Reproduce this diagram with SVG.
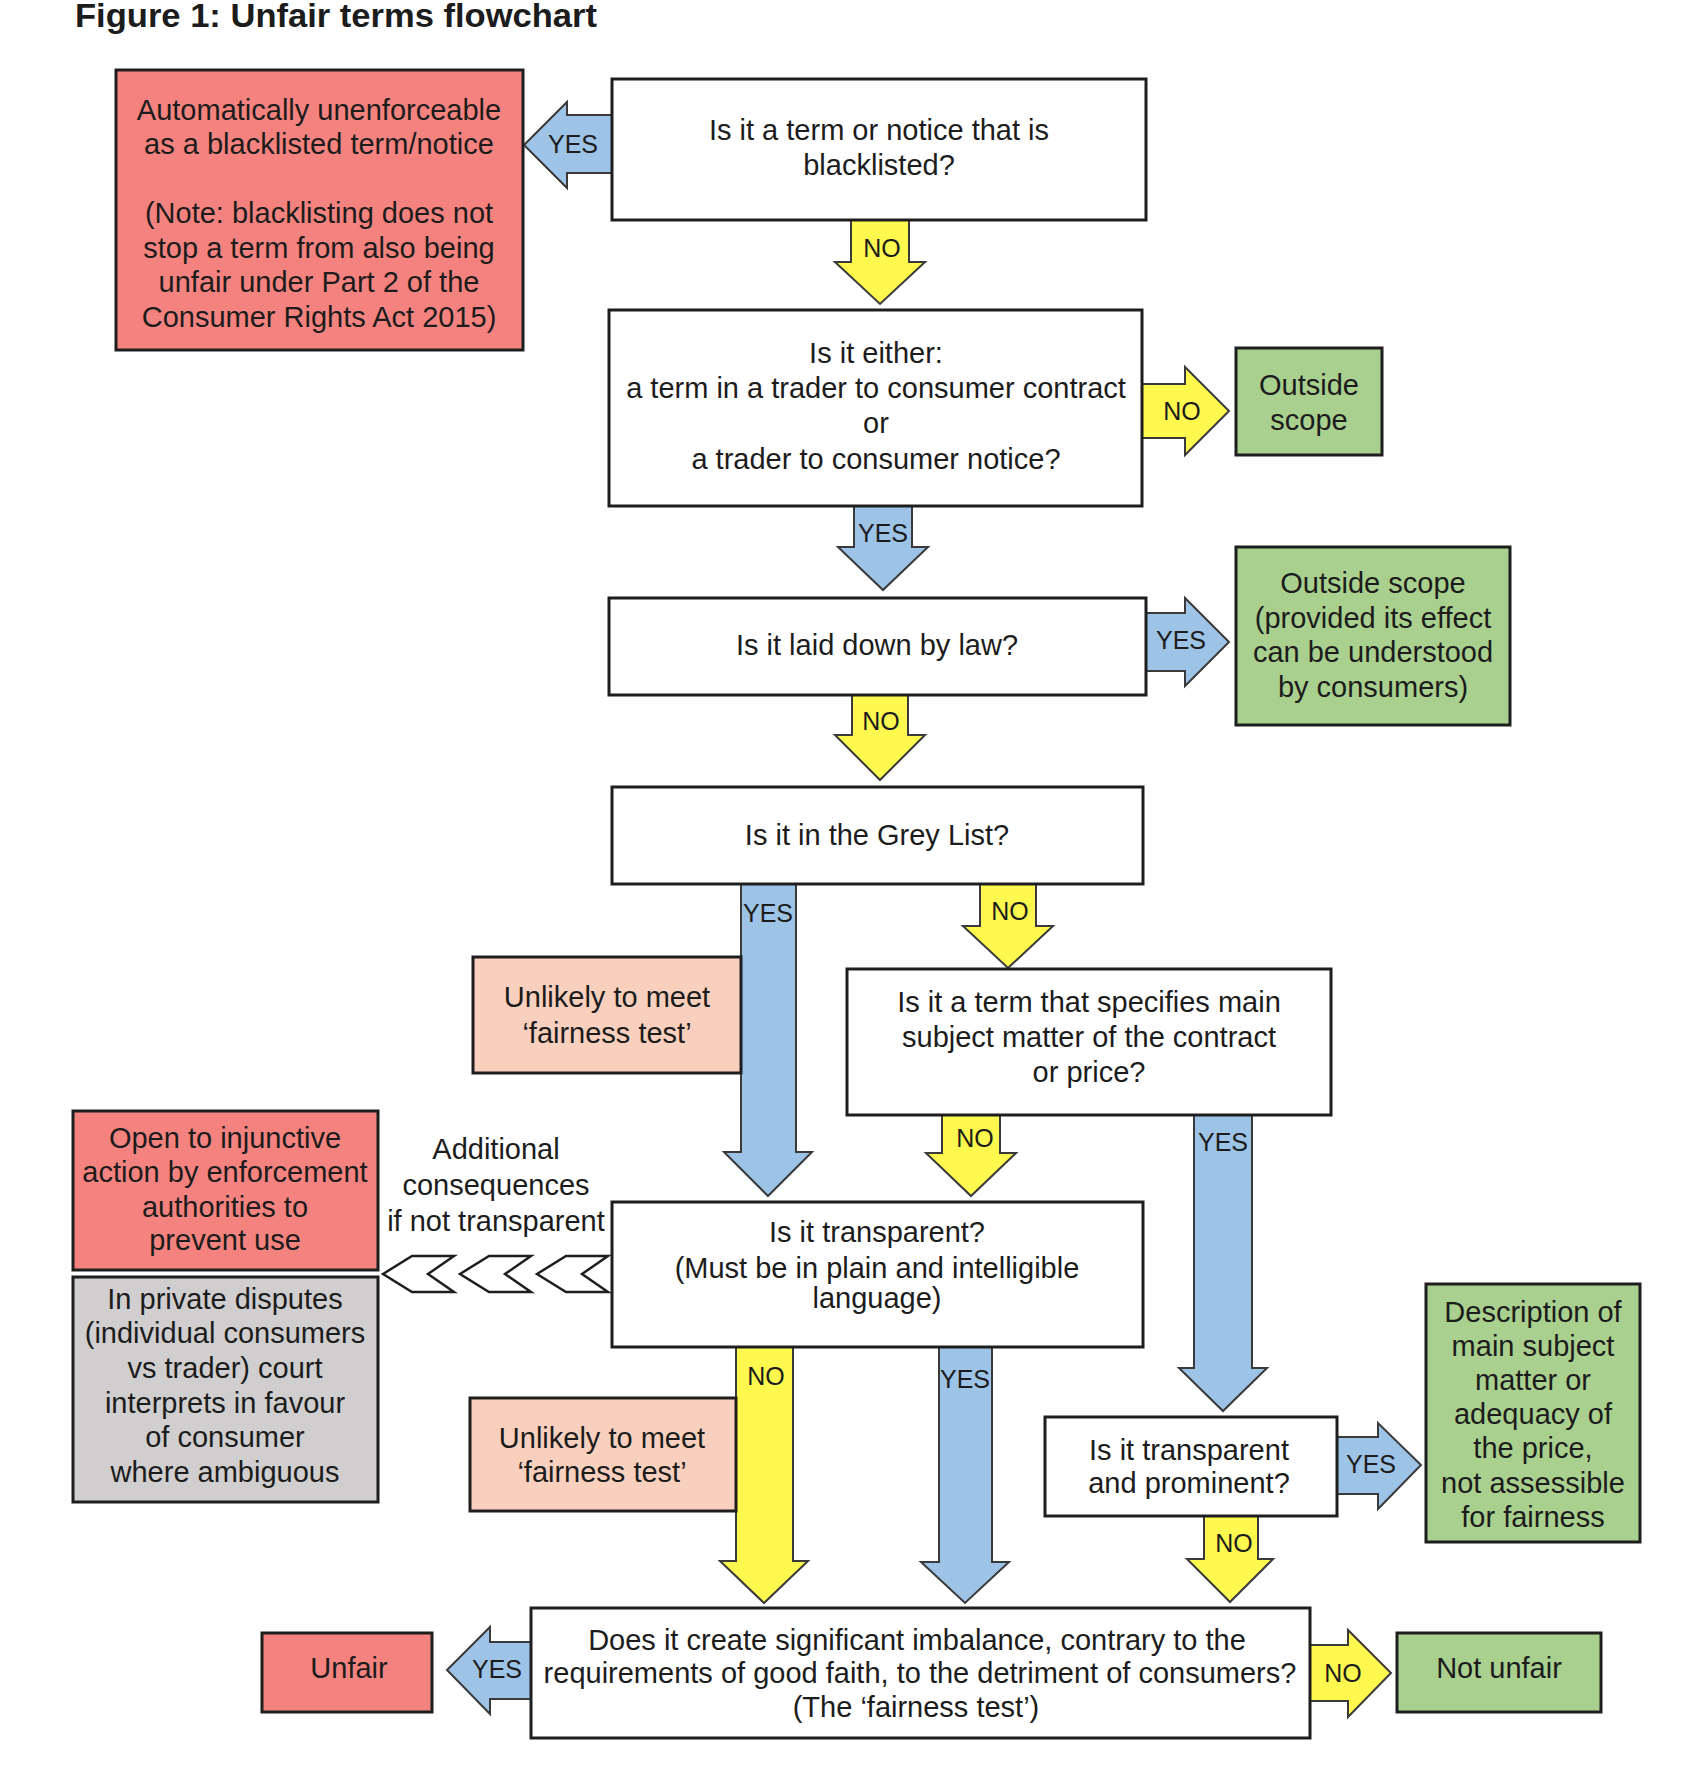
<svg xmlns="http://www.w3.org/2000/svg" width="1686" height="1791" viewBox="0 0 1686 1791">
<style>
text{font-family:"Liberation Sans",Arial,sans-serif;fill:#1c1c1c;text-anchor:middle}
.t{font-size:29px}
.lab{font-size:25px}
.title{font-size:33px;font-weight:bold;text-anchor:start}
.box{stroke:#1e1e1e;stroke-width:3}
.white{fill:#ffffff}
.red{fill:#F4837F}
.green{fill:#A9D08E}
.peach{fill:#F9D0BD}
.grey{fill:#D0CECE}
.ab{fill:#9DC3E6;stroke:#3a3a3a;stroke-width:2;stroke-linejoin:miter}
.ay{fill:#FFF94F;stroke:#3a3a3a;stroke-width:2;stroke-linejoin:miter}
.chev{fill:#ffffff;stroke:#1e1e1e;stroke-width:2.5}
</style>
<rect width="1686" height="1791" fill="#ffffff"/>
<text class="title" x="75" y="27" textLength="522" lengthAdjust="spacingAndGlyphs">Figure 1: Unfair terms flowchart</text>

<g id="connectors">
  <!-- B -> A YES -->
  <polygon class="ab" points="612,115 567,115 567,102 524,145 567,188 567,173 612,173"/>
  <text class="lab" x="573" y="153">YES</text>
  <!-- B -> C NO -->
  <polygon class="ay" points="851,220 909,220 909,262 925,262 880,304 835,262 851,262"/>
  <text class="lab" x="882" y="257">NO</text>
  <!-- C -> Outside scope NO -->
  <polygon class="ay" points="1142,384 1185,384 1185,367 1229,411 1185,455 1185,438 1142,438"/>
  <text class="lab" x="1182" y="420">NO</text>
  <!-- C -> D YES -->
  <polygon class="ab" points="854,506 912,506 912,547 928,547 883,590 838,547 854,547"/>
  <text class="lab" x="883" y="542">YES</text>
  <!-- D -> Outside scope 2 YES -->
  <polygon class="ab" points="1146,613 1185,613 1185,598 1229,642 1185,686 1185,671 1146,671"/>
  <text class="lab" x="1181" y="649">YES</text>
  <!-- D -> E NO -->
  <polygon class="ay" points="852,695 908,695 908,735 925,735 880,780 835,735 852,735"/>
  <text class="lab" x="881" y="730">NO</text>
  <!-- E -> H YES (long) -->
  <polygon class="ab" points="741,884 796,884 796,1152 812,1152 768,1196 724,1152 741,1152"/>
  <text class="lab" x="768" y="922">YES</text>
  <!-- E -> F NO -->
  <polygon class="ay" points="980,884 1036,884 1036,926 1053,926 1008,968 963,926 980,926"/>
  <text class="lab" x="1010" y="920">NO</text>
  <!-- F -> H NO -->
  <polygon class="ay" points="942,1115 1000,1115 1000,1153 1016,1153 971,1196 926,1153 942,1153"/>
  <text class="lab" x="975" y="1147">NO</text>
  <!-- F -> J YES (long) -->
  <polygon class="ab" points="1194,1115 1252,1115 1252,1368 1267,1368 1223,1411 1179,1368 1194,1368"/>
  <text class="lab" x="1223" y="1151">YES</text>
  <!-- H -> L NO (long) -->
  <polygon class="ay" points="736,1347 793,1347 793,1561 808,1561 764,1603 720,1561 736,1561"/>
  <text class="lab" x="766" y="1385">NO</text>
  <!-- H -> L YES (long) -->
  <polygon class="ab" points="939,1347 992,1347 992,1562 1009,1562 965,1603 921,1562 939,1562"/>
  <text class="lab" x="965" y="1388">YES</text>
  <!-- J -> M YES -->
  <polygon class="ab" points="1337,1437 1378,1437 1378,1423 1421,1465 1378,1509 1378,1494 1337,1494"/>
  <text class="lab" x="1371" y="1473">YES</text>
  <!-- J -> L NO -->
  <polygon class="ay" points="1204,1516 1258,1516 1258,1559 1273,1559 1230,1602 1187,1559 1204,1559"/>
  <text class="lab" x="1234" y="1552">NO</text>
  <!-- L -> Unfair YES -->
  <polygon class="ab" points="531,1642 490,1642 490,1627 447,1670 490,1714 490,1699 531,1699"/>
  <text class="lab" x="497" y="1678">YES</text>
  <!-- L -> Not unfair NO -->
  <polygon class="ay" points="1310,1645 1348,1645 1348,1630 1391,1673 1348,1717 1348,1701 1310,1701"/>
  <text class="lab" x="1343" y="1682">NO</text>
  <!-- chevrons: additional consequences -->
  <polygon class="chev" points="383,1274 412,1256 454,1256 428,1274 454,1292 412,1292"/>
  <polygon class="chev" points="460,1274 489,1256 531,1256 505,1274 531,1292 489,1292"/>
  <polygon class="chev" points="537,1274 566,1256 608,1256 582,1274 608,1292 566,1292"/>
</g>

<g id="nodeA">
  <rect class="box red" x="116" y="70" width="407" height="280"/>
  <text class="t" x="319" y="120">Automatically unenforceable</text>
  <text class="t" x="319" y="154">as a blacklisted term/notice</text>
  <text class="t" x="319" y="223">(Note: blacklisting does not</text>
  <text class="t" x="319" y="258">stop a term from also being</text>
  <text class="t" x="319" y="292">unfair under Part 2 of the</text>
  <text class="t" x="319" y="327">Consumer Rights Act 2015)</text>
</g>
<g id="nodeB">
  <rect class="box white" x="612" y="79" width="534" height="141"/>
  <text class="t" x="879" y="140">Is it a term or notice that is</text>
  <text class="t" x="879" y="175">blacklisted?</text>
</g>
<g id="nodeC">
  <rect class="box white" x="609" y="310" width="533" height="196"/>
  <text class="t" x="876" y="363">Is it either:</text>
  <text class="t" x="876" y="398">a term in a trader to consumer contract</text>
  <text class="t" x="876" y="433">or</text>
  <text class="t" x="876" y="469">a trader to consumer notice?</text>
</g>
<g id="nodeOutsideScope">
  <rect class="box green" x="1236" y="348" width="146" height="107"/>
  <text class="t" x="1309" y="395">Outside</text>
  <text class="t" x="1309" y="430">scope</text>
</g>
<g id="nodeD">
  <rect class="box white" x="609" y="598" width="537" height="97"/>
  <text class="t" x="877" y="655">Is it laid down by law?</text>
</g>
<g id="nodeOutsideScope2">
  <rect class="box green" x="1236" y="547" width="274" height="178"/>
  <text class="t" x="1373" y="593">Outside scope</text>
  <text class="t" x="1373" y="628">(provided its effect</text>
  <text class="t" x="1373" y="662">can be understood</text>
  <text class="t" x="1373" y="697">by consumers)</text>
</g>
<g id="nodeE">
  <rect class="box white" x="612" y="787" width="531" height="97"/>
  <text class="t" x="877" y="845">Is it in the Grey List?</text>
</g>
<g id="nodeG">
  <rect class="box peach" x="473" y="957" width="268" height="116"/>
  <text class="t" x="607" y="1007">Unlikely to meet</text>
  <text class="t" x="607" y="1043">‘fairness test’</text>
</g>
<g id="nodeF">
  <rect class="box white" x="847" y="969" width="484" height="146"/>
  <text class="t" x="1089" y="1012">Is it a term that specifies main</text>
  <text class="t" x="1089" y="1047">subject matter of the contract</text>
  <text class="t" x="1089" y="1082">or price?</text>
</g>
<g id="nodeI">
  <rect class="box red" x="73" y="1111" width="305" height="159"/>
  <text class="t" x="225" y="1148">Open to injunctive</text>
  <text class="t" x="225" y="1182">action by enforcement</text>
  <text class="t" x="225" y="1217">authorities to</text>
  <text class="t" x="225" y="1250">prevent use</text>
</g>
<g id="labelAdditional">
  <text class="t" x="496" y="1159">Additional</text>
  <text class="t" x="496" y="1195">consequences</text>
  <text class="t" x="496" y="1231">if not transparent</text>
</g>
<g id="nodeH">
  <rect class="box white" x="612" y="1202" width="531" height="145"/>
  <text class="t" x="877" y="1242">Is it transparent?</text>
  <text class="t" x="877" y="1278">(Must be in plain and intelligible</text>
  <text class="t" x="877" y="1308">language)</text>
</g>
<g id="nodeK">
  <rect class="box grey" x="73" y="1277" width="305" height="225"/>
  <text class="t" x="225" y="1309">In private disputes</text>
  <text class="t" x="225" y="1343">(individual consumers</text>
  <text class="t" x="225" y="1378">vs trader) court</text>
  <text class="t" x="225" y="1413">interprets in favour</text>
  <text class="t" x="225" y="1447">of consumer</text>
  <text class="t" x="225" y="1482">where ambiguous</text>
</g>
<g id="nodeG2">
  <rect class="box peach" x="470" y="1398" width="266" height="113"/>
  <text class="t" x="602" y="1448">Unlikely to meet</text>
  <text class="t" x="602" y="1482">‘fairness test’</text>
</g>
<g id="nodeJ">
  <rect class="box white" x="1045" y="1417" width="292" height="99"/>
  <text class="t" x="1189" y="1460">Is it transparent</text>
  <text class="t" x="1189" y="1493">and prominent?</text>
</g>
<g id="nodeM">
  <rect class="box green" x="1426" y="1284" width="214" height="258"/>
  <text class="t" x="1533" y="1322">Description of</text>
  <text class="t" x="1533" y="1356">main subject</text>
  <text class="t" x="1533" y="1390">matter or</text>
  <text class="t" x="1533" y="1424">adequacy of</text>
  <text class="t" x="1533" y="1458">the price,</text>
  <text class="t" x="1533" y="1493">not assessible</text>
  <text class="t" x="1533" y="1527">for fairness</text>
</g>
<g id="nodeL">
  <rect class="box white" x="531" y="1608" width="779" height="130"/>
  <text class="t" x="917" y="1650">Does it create significant imbalance, contrary to the</text>
  <text class="t" x="920" y="1683">requirements of good faith, to the detriment of consumers?</text>
  <text class="t" x="916" y="1717">(The ‘fairness test’)</text>
</g>
<g id="nodeUnfair">
  <rect class="box red" x="262" y="1633" width="170" height="79"/>
  <text class="t" x="349" y="1678">Unfair</text>
</g>
<g id="nodeNotUnfair">
  <rect class="box green" x="1397" y="1633" width="204" height="79"/>
  <text class="t" x="1499" y="1678">Not unfair</text>
</g>
</svg>
